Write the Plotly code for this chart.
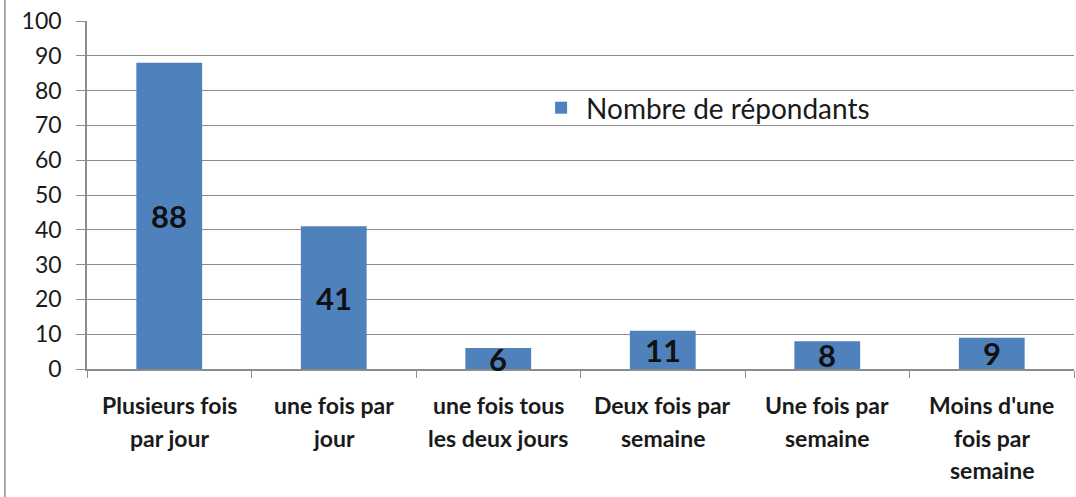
import plotly.graph_objects as go

# Data
categories = ["Plusieurs fois par jour", "une fois par jour", "une fois tous les deux jours",
              "Deux fois par semaine", "Une fois par semaine", "Moins d'une fois par semaine"]
tick_lines = [["Plusieurs fois", "par jour"],
              ["une fois par", "jour"],
              ["une fois tous", "les deux jours"],
              ["Deux fois par", "semaine"],
              ["Une fois par", "semaine"],
              ["Moins d'une", "fois par", "semaine"]]
values = [88, 41, 6, 11, 8, 9]
series_name = "Nombre de répondants"

BAR_COLOR = "#4F81BD"
GRID = "#8C8C8C"
FONT = "Lato"

fig = go.Figure()

fig.add_trace(go.Bar(
    x=categories,
    y=values,
    name=series_name,
    marker=dict(color=BAR_COLOR, line=dict(width=0)),
    width=0.4,
    showlegend=True,
))

# value labels centred in the bars (overflowing on short bars like Excel)
for cat, v in zip(categories, values):
    fig.add_annotation(
        x=cat, y=v / 2, xref="x", yref="y",
        text=f"<b>{v}</b>", showarrow=False,
        font=dict(family=FONT, size=31, color="#111111"),
        xanchor="center", yanchor="middle",
    )

# category labels with wide line spacing
for cat, lines in zip(categories, tick_lines):
    for j, line in enumerate(lines):
        fig.add_annotation(
            x=cat, y=-0.104 - j * 0.093, xref="x", yref="paper",
            text=f"<b>{line}</b>", showarrow=False,
            font=dict(family=FONT, size=23, color="#1a1a1a"),
            xanchor="center", yanchor="middle",
        )

# outer chart border (left edge visible)
fig.add_shape(type="line", xref="paper", yref="paper",
              x0=-0.0832, x1=-0.0832, y0=-0.5, y1=1.2,
              line=dict(color="#8a8a8a", width=1.5))

fig.update_layout(
    width=1076, height=497,
    margin=dict(l=87, r=2, t=21, b=128),
    paper_bgcolor="white",
    plot_bgcolor="white",
    font=dict(family=FONT, color="#1a1a1a"),
    legend=dict(
        x=0.455, y=0.75, xanchor="left", yanchor="middle",
        font=dict(family=FONT, size=28, color="#1a1a1a"),
        bgcolor="rgba(255,255,255,0)",
        itemwidth=40,
    ),
    xaxis=dict(
        showticklabels=False,
        ticks="outside", tickson="boundaries", ticklen=7,
        tickcolor=GRID,
        showline=True, linecolor=GRID, linewidth=1.5,
        showgrid=False,
    ),
    yaxis=dict(
        range=[0, 100], dtick=10, tick0=0,
        ticks="outside", ticklen=9, tickcolor=GRID,
        ticklabelstandoff=10,
        showline=True, linecolor=GRID, linewidth=1.5,
        showgrid=True, gridcolor=GRID, gridwidth=1,
        tickfont=dict(family=FONT, size=23, color="#1a1a1a"),
        zeroline=False,
    ),
)

fig.write_html("out.html", config={"displayModeBar": False},
               post_script="document.body.style.margin='0';")
